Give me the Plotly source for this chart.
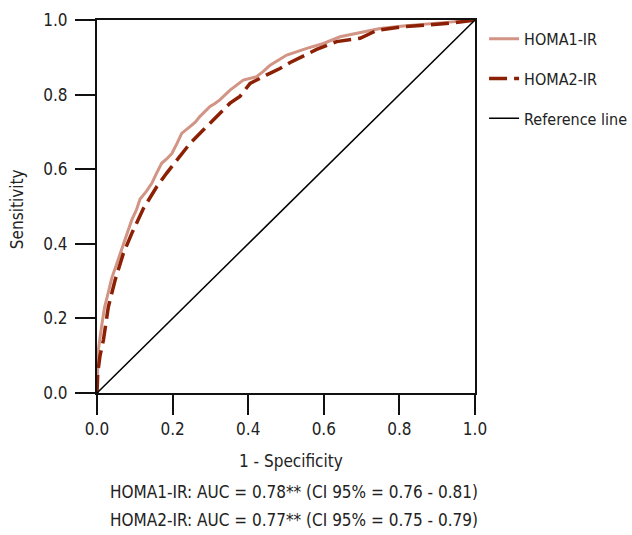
import plotly.graph_objects as go

homa1_fpr = [0.0, 0.003, 0.012, 0.02, 0.03, 0.039, 0.05, 0.06, 0.069, 0.08, 0.092, 0.104, 0.114, 0.13, 0.145, 0.158, 0.171, 0.185, 0.198, 0.212, 0.224, 0.246, 0.26, 0.272, 0.285, 0.299, 0.312, 0.325, 0.352, 0.37, 0.387, 0.422, 0.44, 0.458, 0.48, 0.502, 0.555, 0.599, 0.643, 0.696, 0.749, 0.81, 0.881, 0.94, 1.0]
homa1_tpr = [0.0, 0.11, 0.178, 0.23, 0.27, 0.308, 0.34, 0.37, 0.40, 0.43, 0.464, 0.49, 0.52, 0.54, 0.562, 0.59, 0.616, 0.628, 0.642, 0.67, 0.696, 0.714, 0.726, 0.741, 0.755, 0.768, 0.776, 0.786, 0.812, 0.826, 0.839, 0.848, 0.862, 0.879, 0.892, 0.906, 0.924, 0.937, 0.955, 0.966, 0.977, 0.984, 0.991, 0.995, 1.0]

homa2_fpr = [0.0, 0.002, 0.008, 0.017, 0.03, 0.048, 0.07, 0.092, 0.123, 0.158, 0.184, 0.211, 0.246, 0.281, 0.317, 0.352, 0.378, 0.405, 0.449, 0.484, 0.511, 0.581, 0.634, 0.696, 0.74, 0.81, 0.881, 0.942, 1.0]
homa2_tpr = [0.0, 0.054, 0.10, 0.142, 0.231, 0.303, 0.375, 0.428, 0.495, 0.553, 0.589, 0.625, 0.669, 0.705, 0.741, 0.777, 0.795, 0.830, 0.853, 0.870, 0.886, 0.921, 0.942, 0.951, 0.972, 0.982, 0.987, 0.992, 1.0]

ref_x = [0.0, 1.0]
ref_y = [0.0, 1.0]

auc_lines = [
    "HOMA1-IR: AUC = 0.78** (CI 95% = 0.76 - 0.81)",
    "HOMA2-IR: AUC = 0.77** (CI 95% = 0.75 - 0.79)",
]
x_title = "1 - Specificity"
y_title = "Sensitivity"
tick_vals = [0.0, 0.2, 0.4, 0.6, 0.8, 1.0]
tick_text = ["0.0", "0.2", "0.4", "0.6", "0.8", "1.0"]

FONT = "DejaVu Sans Condensed, Liberation Sans Narrow, Arial Narrow, sans-serif"
TXT = "#222"
FS = 17

fig = go.Figure()
fig.add_trace(go.Scatter(x=homa1_fpr, y=homa1_tpr, mode="lines", name="HOMA1-IR",
                         line=dict(color="rgb(210,148,132)", width=3), legendgroup="a"))
fig.add_trace(go.Scatter(x=homa2_fpr, y=homa2_tpr, mode="lines", name="HOMA2-IR",
                         line=dict(color="rgb(140,32,5)", width=3.5, dash="18px,7px"), legendgroup="b"))
fig.add_trace(go.Scatter(x=ref_x, y=ref_y, mode="lines", name="Reference line",
                         line=dict(color="black", width=1.5), legendgroup="c"))

for i, t in enumerate(auc_lines):
    fig.add_annotation(text=t, xref="paper", yref="paper", x=0.521, y=-0.2654 - i * 0.0751,
                       showarrow=False, xanchor="center", yanchor="middle",
                       font=dict(size=FS, color=TXT, family=FONT))

fig.add_annotation(text=x_title, xref="paper", yref="paper", x=0.513, y=-0.182,
                   showarrow=False, xanchor="center", yanchor="middle",
                   font=dict(size=FS, color=TXT, family=FONT))
fig.add_annotation(text=y_title, xref="paper", yref="paper", x=-0.2116, y=0.493,
                   showarrow=False, xanchor="center", yanchor="middle", textangle=-90,
                   font=dict(size=FS, color=TXT, family=FONT))

axis_common = dict(range=[0, 1], tickvals=tick_vals, ticktext=tick_text, showgrid=False,
                   zeroline=False, showline=True, linecolor="#111", linewidth=2, mirror=True,
                   ticks="outside", ticklen=20, tickwidth=2, tickcolor="#111", automargin=False,
                   tickfont=dict(size=FS, color=TXT, family=FONT))

fig.update_xaxes(**axis_common)
fig.update_yaxes(**axis_common, ticklabelstandoff=4)

fig.update_layout(
    width=632, height=535,
    margin=dict(l=97, r=157, t=20, b=142, autoexpand=False),
    plot_bgcolor="white", paper_bgcolor="white",
    font=dict(family=FONT, size=FS, color=TXT),
    legend=dict(x=1.024, y=0.995, xanchor="left", yanchor="top", traceorder="grouped",
                tracegroupgap=16, font=dict(size=16, color=TXT, family=FONT),
                bgcolor="rgba(0,0,0,0)"),
)

fig.write_html(
    "out.html",
    config={"displayModeBar": False},
    post_script="document.body.style.margin='0';document.body.style.overflow='hidden';",
)
